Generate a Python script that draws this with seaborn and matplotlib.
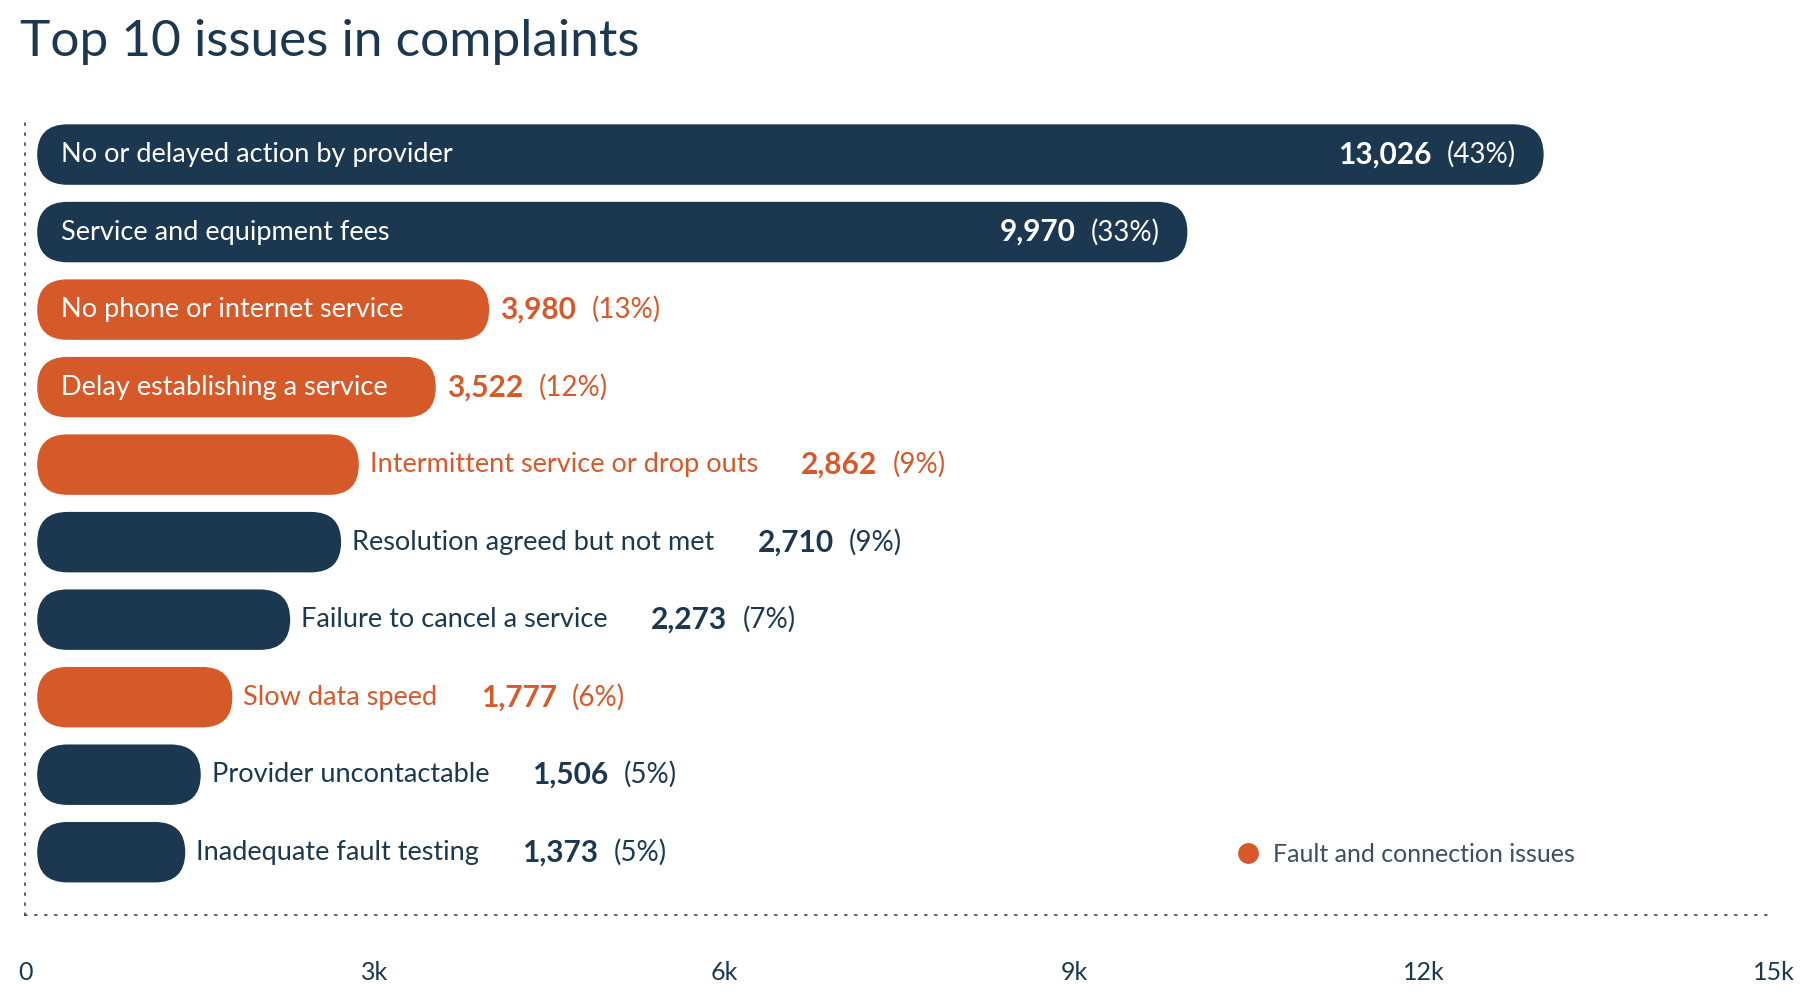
import matplotlib
matplotlib.use("Agg")
import matplotlib.pyplot as plt
from matplotlib.patches import FancyBboxPatch
from matplotlib.lines import Line2D
import seaborn as sns
import pandas as pd

# data
issues = ["No or delayed action by provider", "Service and equipment fees",
          "No phone or internet service", "Delay establishing a service",
          "Intermittent service or drop outs", "Resolution agreed but not met",
          "Failure to cancel a service", "Slow data speed",
          "Provider uncontactable", "Inadequate fault testing"]
counts = [13026, 9970, 3980, 3522, 2862, 2710, 2273, 1777, 1506, 1373]
shares = ["43%", "33%", "13%", "12%", "9%", "9%", "7%", "6%", "5%", "5%"]
fault = [False, False, True, True, True, False, False, True, False, False]
ticks = [0, 3000, 6000, 9000, 12000, 15000]
tick_labels = ["0", "3k", "6k", "9k", "12k", "15k"]

navy = "#1b3850"
orange = "#d6592a"
inside_label = [True, True, True, True, False, False, False, False, False, False]
inside_value = [True, True, False, False, False, False, False, False, False, False]

df = pd.DataFrame({"issue": issues, "count": counts})
colors = [orange if f else navy for f in fault]

sns.set_style("white")
plt.rcParams["font.family"] = ["Lato", "DejaVu Sans"]

fig = plt.figure(figsize=(18, 10), dpi=100)
ax = fig.add_axes([0.014, 0.085, 0.9714, 0.793])
sns.barplot(data=df, x="count", y="issue", hue="issue", palette=colors,
            orient="h", width=0.78, saturation=1, legend=False, ax=ax)
ax.set_xlim(0, 15000)
ax.set_ylim(9.81, -0.42)

# swap the square bars for rounded ones
fig.canvas.draw()
x_per_px = 15000 / ax.bbox.width
y_per_px = (9.81 + 0.42) / ax.bbox.height
for p in list(ax.patches):
    x0, y0, w, h = p.get_x(), p.get_y(), p.get_width(), p.get_height()
    fc = p.get_facecolor()
    p.remove()
    off = 12 * x_per_px
    r = (h / y_per_px) / 2 * x_per_px
    ax.add_patch(FancyBboxPatch((x0 + off, y0), w - off, h,
                                boxstyle=f"round,pad=0,rounding_size={r}",
                                mutation_aspect=y_per_px / x_per_px,
                                facecolor=fc, edgecolor="none"))

fs = 19.5
vfs = 21.5
pfs = 20
for i, (name, n, pct) in enumerate(zip(issues, counts, shares)):
    col = orange if fault[i] else navy
    val = f"{n:,}"
    if inside_label[i]:
        ax.annotate(name, (0, i), xytext=(26, 0), textcoords="offset points",
                    ha="left", va="center", color="white", fontsize=fs)
    if inside_value[i]:
        t = ax.annotate(f"({pct})", (n, i), xytext=(-20, 0), textcoords="offset points",
                        ha="right", va="center", color="white", fontsize=pfs)
        ax.annotate(val, xy=(0, 0.5), xycoords=t, xytext=(-11, 0), textcoords="offset points",
                    ha="right", va="center", color="white", fontsize=vfs, fontweight="bold")
        continue
    if inside_label[i]:
        t = ax.annotate(val, (n, i), xytext=(8, 0), textcoords="offset points",
                        ha="left", va="center", color=col, fontsize=vfs, fontweight="bold")
    else:
        lab = ax.annotate(name, (n, i), xytext=(8, 0), textcoords="offset points",
                          ha="left", va="center", color=col, fontsize=fs)
        t = ax.annotate(val, xy=(1, 0.5), xycoords=lab, xytext=(31, 0), textcoords="offset points",
                        ha="left", va="center", color=col, fontsize=vfs, fontweight="bold")
    ax.annotate(f"({pct})", xy=(1, 0.5), xycoords=t, xytext=(11, 0), textcoords="offset points",
                ha="left", va="center", color=col, fontsize=pfs)

# dotted axis lines
for side in ["top", "right"]:
    ax.spines[side].set_visible(False)
for side in ["left", "bottom"]:
    ax.spines[side].set_linestyle((0, (1, 5)))
    ax.spines[side].set_linewidth(1.2)
    ax.spines[side].set_color("#444444")

ax.set_xticks(ticks)
ax.set_xticklabels(tick_labels)
ax.tick_params(axis="x", direction="in", length=5, width=1.2, color="#444444",
               pad=33, labelsize=18, labelcolor=navy)
ax.set_yticks([])
ax.set_xlabel("")
ax.set_ylabel("")

handle = Line2D([], [], marker="o", linestyle="none", markersize=15,
                markerfacecolor=orange, markeredgecolor="none")
leg = ax.legend([handle], ["Fault and connection issues"], loc="center left",
                bbox_to_anchor=(0.692, 0.076), frameon=False, borderaxespad=0,
                borderpad=0, handlelength=1, handletextpad=0.5, fontsize=18)
for txt in leg.get_texts():
    txt.set_color("#3a4f63")

fig.text(0.011, 0.958, "Top 10 issues in complaints", fontsize=37, color=navy,
         ha="left", va="center")

fig.savefig("out.png", dpi=100)
